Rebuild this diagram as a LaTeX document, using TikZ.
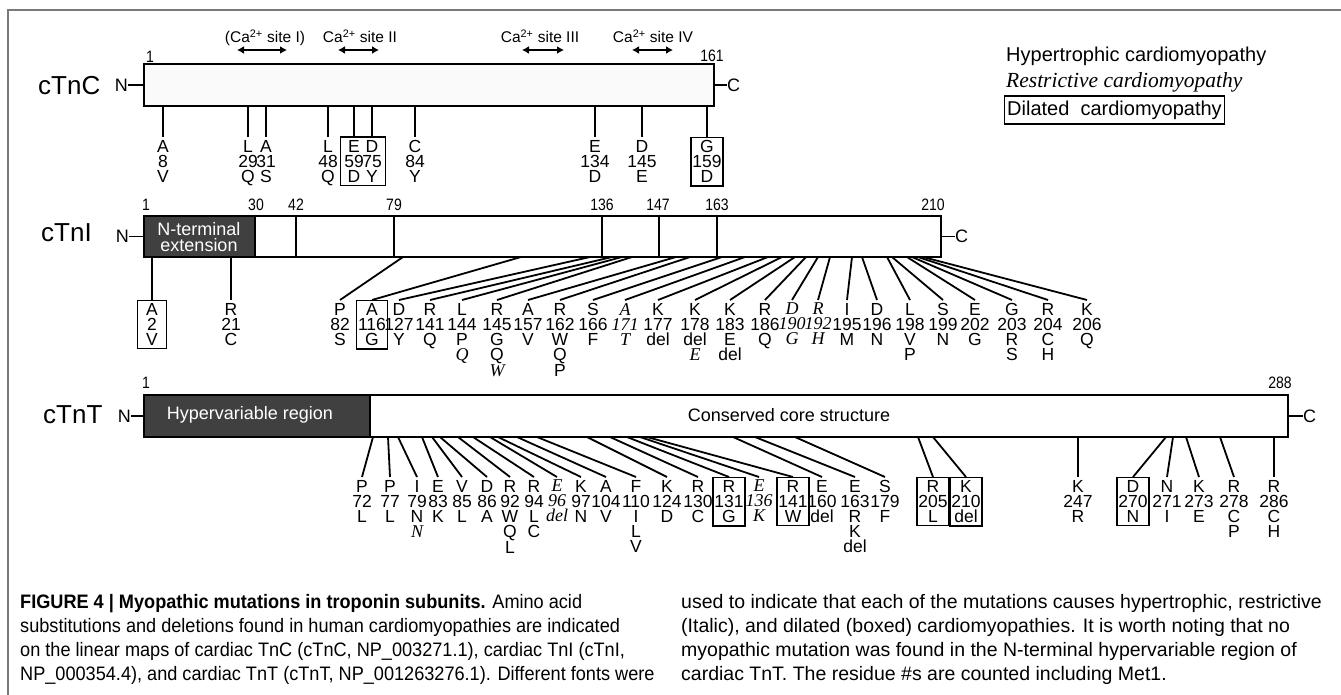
\documentclass[tikz,border=0pt]{standalone}
\usepackage{fontspec}
\setmainfont{Liberation Sans}
\newfontfamily\serfont{Liberation Serif}
\newfontfamily\narrowfont{Liberation Sans}[FakeStretch=0.85]
\newfontfamily\capfont{Liberation Sans}[FakeStretch=0.93]
\newfontfamily\capfontR{Liberation Sans}[FakeStretch=1.0]
\usetikzlibrary{arrows.meta,fit}
\definecolor{darkfill}{HTML}{404040}
\definecolor{framegray}{HTML}{7A7A7A}
\definecolor{barfill}{HTML}{FAFAFA}
\newcommand\Ital[1]{{\serfont\itshape\fontsize{18}{15}\selectfont #1}}
\newcommand\mutlab[6]{\coordinate (#1-s) at (#2,#3);\node[mlab] (#1) at (#4,#5) {#6};\draw[conline] (#1-s) -- (#1.north);}
\newcommand\mutbox[6]{\coordinate (#1-s) at (#2,#3);\node[mbox] (#1) at (#4,#5) {#6};\draw[conline] (#1-s) -- (#1.north);}
\begin{document}
\begin{tikzpicture}[x=1pt,y=-1pt,
 conline/.style={line width=1.8},
 barline/.style={line width=2.2},
 barbox/.style={draw,line width=2.2,anchor=north west,inner sep=0,outer sep=0},
 mlab/.style={anchor=north,align=center,inner xsep=0.5,inner ysep=3,font=\fontsize{17.5}{15}\selectfont},
 mbox/.style={mlab,draw,line width=1.4,inner xsep=1.5,minimum width=29},
 numpos/.style={anchor=base,inner sep=0,font=\narrowfont\fontsize{16.5}{16}\selectfont},
 biglab/.style={anchor=base west,inner sep=0,font=\fontsize{26}{26}\selectfont},
 termlab/.style={inner sep=0,font=\fontsize{18}{18}\selectfont},
 calab/.style={anchor=base,inner sep=0,font=\fontsize{15.5}{16}\selectfont},
 caarr/.style={line width=2.8,{Latex[length=7pt,width=8pt]}-{Latex[length=7pt,width=8pt]}},
 captext/.style={anchor=base west,inner sep=0,font=\capfont\fontsize{19.5}{24}\selectfont},
 captextR/.style={anchor=base west,inner sep=0,font=\capfontR\fontsize{19.5}{24}\selectfont},
]
\useasboundingbox (0,0) rectangle (1341,695);
\fill[white] (0,0) rectangle (1341,695);
\draw[framegray,line width=2] (8,695) -- (8,10) -- (1341,10);

% ---------------- cTnC ----------------
\node[biglab] (lc) at (38,95) {cTnC};
\node[barbox,fill=barfill,minimum width=570,minimum height=42] (tnc) at (144,64) {};
\node[termlab,anchor=east] (tncN) at (128,85) {N};
\node[termlab,anchor=west] (tncC) at (727,85) {C};
\draw[conline] (tncN.east) -- (tnc.west);
\draw[conline] (tnc.east) -- (tncC.west);
\node[numpos] (pc1) at (150,63) {1};
\node[numpos] (pc161) at (712,62) {161};

\node[calab] (ca1) at (265,43) {(Ca\textsuperscript{2+} site I)};
\node[calab] (ca2) at (360,43) {Ca\textsuperscript{2+} site II};
\node[calab] (ca3) at (540,43) {Ca\textsuperscript{2+} site III};
\node[calab] (ca4) at (653,43) {Ca\textsuperscript{2+} site IV};
\coordinate (a1l) at (237,50); \coordinate (a1r) at (287,50);
\coordinate (a2l) at (338,50); \coordinate (a2r) at (379,50);
\coordinate (a3l) at (522,50); \coordinate (a3r) at (564,50);
\coordinate (a4l) at (632,50); \coordinate (a4r) at (673,50);
\draw[caarr] (a1l) -- (a1r);
\draw[caarr] (a2l) -- (a2r);
\draw[caarr] (a3l) -- (a3r);
\draw[caarr] (a4l) -- (a4r);

\mutlab{c8}{163}{106}{163}{137}{A\\8\\V}
\mutlab{c29}{248}{106}{248}{137}{L\\29\\Q}
\mutlab{c31}{266}{106}{266}{137}{A\\31\\S}
\mutlab{c48}{328}{106}{328}{137}{L\\48\\Q}
\mutlab{c59}{354}{106}{354}{137}{E\\59\\D}
\mutlab{c75}{372}{106}{372}{137}{D\\75\\Y}
\node[draw,line width=1.4,fit=(c59)(c75),inner xsep=3,inner ysep=0] (c5975) {};
\mutlab{c84}{415}{106}{415}{137}{C\\84\\Y}
\mutlab{c134}{595}{106}{595}{137}{E\\134\\D}
\mutlab{c145}{642}{106}{642}{137}{D\\145\\E}
\mutbox{c159}{707}{106}{707}{137}{G\\159\\D}

% legend
\node[anchor=base west,inner sep=0,font=\fontsize{20}{20}\selectfont] (lh) at (1006,62) {Hypertrophic cardiomyopathy};
\node[anchor=base west,inner sep=0,font=\serfont\itshape\fontsize{21.5}{22}\selectfont] (lr) at (1006,88) {Restrictive cardiomyopathy};
\node[draw,line width=1.4,anchor=west,inner xsep=2.5,minimum height=28,font=\fontsize{20}{20}\selectfont] (ld) at (1004,110) {Dilated\ \ cardiomyopathy};

% ---------------- cTnI ----------------
\node[biglab] (li) at (41,241) {cTnI};
\node[barbox,fill=white,minimum width=797,minimum height=41] (tni) at (144,216) {};
\fill[darkfill] (tni.north west) rectangle (255,257);
\draw[barline] (tni.north west) rectangle (tni.south east);
\foreach \d in {255,296,394,602,659,717} \draw[barline] (\d,216) -- (\d,257);
\node[termlab,anchor=east] (tniN) at (129,236.5) {N};
\node[termlab,anchor=west] (tniC) at (955,236.5) {C};
\draw[conline] (tniN.east) -- (tni.west);
\draw[conline] (tni.east) -- (tniC.west);
\node[align=center,text=white,inner sep=0,font=\fontsize{18}{16}\selectfont] (nte) at (199,237) {N-terminal\\extension};
\node[numpos] (pi1) at (146,211) {1};
\node[numpos] (pi30) at (256,211) {30};
\node[numpos] (pi42) at (296,211) {42};
\node[numpos] (pi79) at (394,211) {79};
\node[numpos] (pi136) at (602,211) {136};
\node[numpos] (pi147) at (658,211) {147};
\node[numpos] (pi163) at (717,211) {163};
\node[numpos] (pi210) at (933,211) {210};

\mutbox{i2}{152}{257}{152}{300}{A\\2\\V}
\mutlab{i21}{231}{257}{231}{300}{R\\21\\C}
\mutlab{i82}{403}{257}{340}{300}{P\\82\\S}
\mutbox{i116}{521}{257}{372}{300}{A\\116\\G}
\mutlab{i127}{590}{257}{399}{300}{D\\127\\Y}
\mutlab{i141}{612}{257}{430}{300}{R\\141\\Q}
\mutlab{i144}{622}{257}{462}{300}{L\\144\\P\\\Ital{Q}}
\mutlab{i145}{632}{257}{497}{300}{R\\145\\G\\Q\\\Ital{W}}
\mutlab{i157}{676}{257}{528}{300}{A\\157\\V}
\mutlab{i162}{690}{257}{560}{300}{R\\162\\W\\Q\\P}
\mutlab{i166}{722}{257}{593}{300}{S\\166\\F}
\mutlab{i171}{745}{257}{625}{300}{\Ital{A}\\\Ital{171}\\\Ital{T}}
\mutlab{i177}{768}{257}{658}{300}{K\\177\\del}
\mutlab{i178}{782}{257}{695}{300}{K\\178\\del\\\Ital{E}}
\mutlab{i183}{795}{257}{730}{300}{K\\183\\E\\del}
\mutlab{i186}{806}{257}{765}{300}{R\\186\\Q}
\mutlab{i190}{818}{257}{792}{300}{\Ital{D}\\\Ital{190}\\\Ital{G}}
\mutlab{i192}{830}{257}{818}{300}{\Ital{R}\\\Ital{192}\\\Ital{H}}
\mutlab{i195}{852}{257}{847}{300}{I\\195\\M}
\mutlab{i196}{862}{257}{877}{300}{D\\196\\N}
\mutlab{i198}{887}{257}{910}{300}{L\\198\\V\\P}
\mutlab{i199}{892}{257}{943}{300}{S\\199\\N}
\mutlab{i202}{907}{257}{975}{300}{E\\202\\G}
\mutlab{i203}{912}{257}{1012}{300}{G\\203\\R\\S}
\mutlab{i204}{918}{257}{1048}{300}{R\\204\\C\\H}
\mutlab{i206}{923}{257}{1087}{300}{K\\206\\Q}

% ---------------- cTnT ----------------
\node[biglab] (lt) at (43,423) {cTnT};
\node[barbox,fill=white,minimum width=1144,minimum height=42] (tnt) at (144,395) {};
\fill[darkfill] (tnt.north west) rectangle (370,437);
\draw[barline] (tnt.north west) rectangle (tnt.south east);
\draw[barline] (370,395) -- (370,437);
\node[termlab,anchor=east] (tntN) at (131,416) {N};
\node[termlab,anchor=west] (tntC) at (1303,416) {C};
\draw[conline] (tntN.east) -- (tnt.west);
\draw[conline] (tnt.east) -- (tntC.west);
\node[text=white,inner sep=0,font=\fontsize{18}{18}\selectfont] (hvr) at (250,415) {Hypervariable region};
\node[inner sep=0,font=\fontsize{18}{18}\selectfont] (ccs) at (789,415) {Conserved core structure};
\node[numpos] (pt1) at (146,388) {1};
\node[numpos] (pt288) at (1280,388) {288};

\mutlab{t72}{373}{437}{362}{477}{P\\72\\L}
\mutlab{t77}{388}{437}{390}{477}{P\\77\\L}
\mutlab{t79}{398}{437}{417}{477}{I\\79\\N\\\Ital{N}}
\mutlab{t83}{422}{437}{438}{477}{E\\83\\K}
\mutlab{t85}{432}{437}{462}{477}{V\\85\\L}
\mutlab{t86}{440}{437}{487}{477}{D\\86\\A}
\mutlab{t92}{458}{437}{510}{477}{R\\92\\W\\Q\\L}
\mutlab{t94}{473}{437}{534}{477}{R\\94\\L\\C}
\mutlab{t96}{490}{437}{557}{477}{\Ital{E}\\\Ital{96}\\\Ital{del}}
\mutlab{t97}{498}{437}{581}{477}{K\\97\\N}
\mutlab{t104}{517}{437}{606}{477}{A\\104\\V}
\mutlab{t110}{537}{437}{636}{477}{F\\110\\I\\L\\V}
\mutlab{t124}{587}{437}{667}{477}{K\\124\\D}
\mutlab{t130}{610}{437}{698}{477}{R\\130\\C}
\mutbox{t131}{627}{437}{729}{477}{R\\131\\G}
\mutlab{t136}{640}{437}{759}{477}{\Ital{E}\\\Ital{136}\\\Ital{K}}
\mutbox{t141}{647}{437}{793}{477}{R\\141\\W}
\mutlab{t160}{733}{437}{822}{477}{E\\160\\del}
\mutlab{t163}{755}{437}{855}{477}{E\\163\\R\\K\\del}
\mutlab{t179}{795}{437}{885}{477}{S\\179\\F}
\mutbox{t205}{918}{437}{933}{477}{R\\205\\L}
\mutbox{t210}{933}{437}{966}{477}{K\\210\\del}
\mutlab{t247}{1078}{437}{1078}{477}{K\\247\\R}
\mutbox{t270}{1166}{437}{1133}{477}{D\\270\\N}
\mutlab{t271}{1173}{437}{1167}{477}{N\\271\\I}
\mutlab{t273}{1186}{437}{1199}{477}{K\\273\\E}
\mutlab{t278}{1220}{437}{1234}{477}{R\\278\\C\\P}
\mutlab{t286}{1274}{437}{1274}{477}{R\\286\\C\\H}

% ---------------- caption ----------------
\node[captext] (cl1) at (20,608) {{\bfseries FIGURE 4 | Myopathic mutations in troponin subunits.} Amino acid};
\node[captext] (cl2) at (20,632) {substitutions and deletions found in human cardiomyopathies are indicated};
\node[captext] (cl3) at (20,656) {on the linear maps of cardiac TnC (cTnC, NP\_003271.1), cardiac TnI (cTnI,};
\node[captext] (cl4) at (20,680) {NP\_000354.4), and cardiac TnT (cTnT, NP\_001263276.1). Different fonts were};
\node[captextR] (cr1) at (681,608) {used to indicate that each of the mutations causes hypertrophic, restrictive};
\node[captextR] (cr2) at (681,632) {(Italic), and dilated (boxed) cardiomyopathies. It is worth noting that no};
\node[captextR] (cr3) at (681,656) {myopathic mutation was found in the N-terminal hypervariable region of};
\node[captextR] (cr4) at (681,680) {cardiac TnT. The residue \#s are counted including Met1.};
\end{tikzpicture}
\end{document}
